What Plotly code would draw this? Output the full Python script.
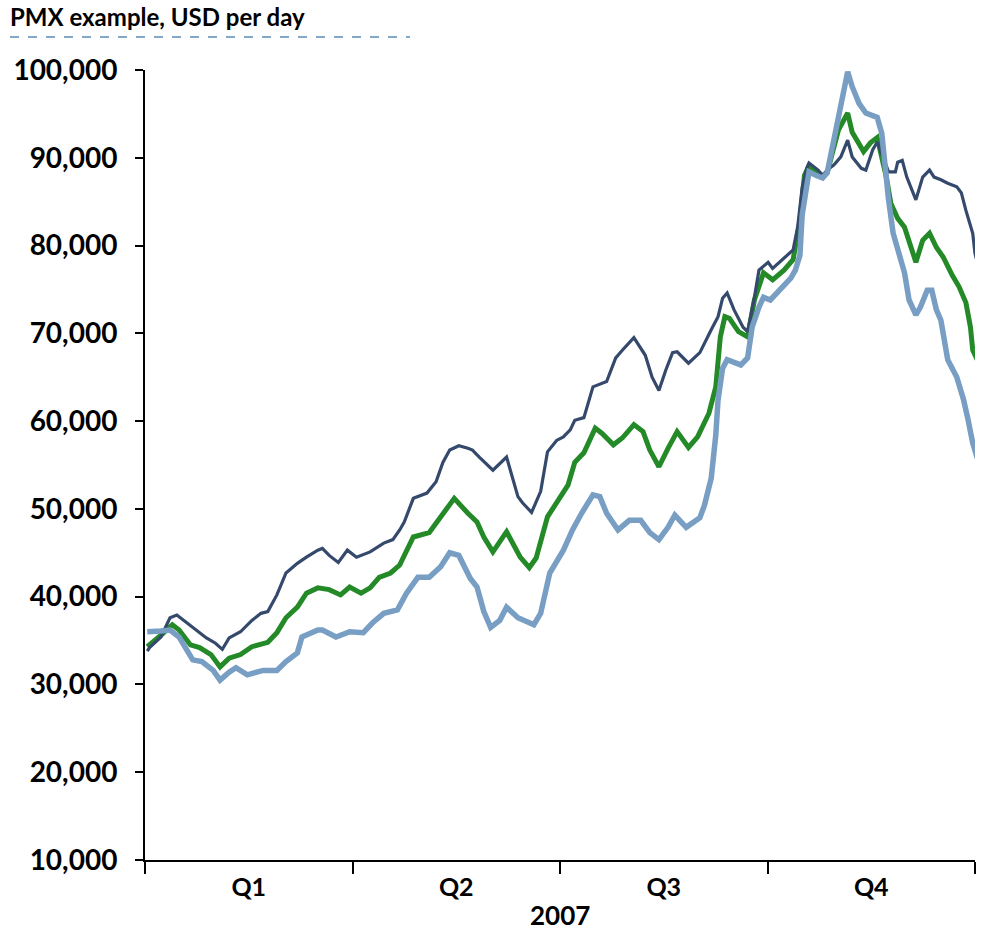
import plotly.graph_objects as go

# ---- data (day of year 2007, USD per day) ----
navy_days = [1, 2, 7, 11, 14, 18, 23, 27, 31, 34, 37, 42, 47, 51, 54, 58, 62, 67, 71, 76, 78, 81, 85, 89, 93, 99,
             105, 109, 112, 114, 118, 124, 128, 131, 134, 138, 142, 144, 147, 150, 153, 159, 164, 166, 170, 174,
             177, 181, 184, 187, 189, 193, 197, 203, 207, 210, 215, 220, 223, 226, 229, 232, 234, 239, 244, 249,
             252, 254, 256, 259, 263, 265, 268, 270, 274, 276, 279, 283, 285, 287, 289, 291, 292, 296, 298, 300,
             303, 306, 309, 311, 315, 317, 320, 322, 325, 327, 330, 331, 333, 335, 339, 342, 345, 347, 350, 353,
             357, 359, 361, 364, 365, 366]
navy_vals = [33800, 34200, 35400, 37600, 37900, 37100, 36000, 35300, 34700, 34000, 35300, 36000, 37300, 38100,
             38300, 40200, 42700, 43800, 44500, 45300, 45500, 44700, 43900, 45300, 44500, 45100, 46100, 46500,
             47600, 48500, 51200, 51800, 53100, 55300, 56700, 57200, 56900, 56700, 55900, 55200, 54400, 55900,
             51400, 50700, 49600, 52000, 56500, 57800, 58200, 59000, 60100, 60400, 63900, 64500, 67200, 68100,
             69500, 67500, 65000, 63500, 65800, 67800, 67900, 66600, 67800, 70400, 71900, 74000, 74600, 72700,
             70700, 70200, 74100, 77200, 78100, 77400, 78100, 79100, 79500, 82100, 86600, 88800, 89400, 88600,
             88000, 88600, 89200, 90100, 92000, 90100, 88800, 88600, 90900, 91800, 89700, 88400, 88400, 89500,
             89700, 87800, 85200, 87800, 88600, 87800, 87500, 87100, 86700, 86000, 84000, 81400, 79100, 78100]

green_days = [1, 2, 7, 12, 15, 20, 24, 29, 33, 37, 42, 47, 54, 58, 62, 67, 71, 76, 81, 86, 90, 95, 99, 103, 108,
              112, 118, 125, 131, 136, 142, 146, 149, 153, 159, 165, 169, 172, 177, 181, 186, 189, 193, 198, 201,
              206, 210, 215, 219, 222, 226, 230, 234, 239, 243, 248, 251, 253, 255, 257, 261, 265, 268, 272, 276,
              281, 285, 288, 290, 292, 296, 298, 300, 302, 305, 309, 311, 316, 319, 322, 324, 326, 328, 331, 334,
              336, 339, 342, 345, 348, 351, 355, 358, 361, 363, 364, 366]
green_vals = [34300, 34500, 35600, 36800, 36200, 34500, 34200, 33400, 32000, 33000, 33400, 34300, 34800, 35900,
              37600, 38800, 40400, 41000, 40800, 40200, 41100, 40400, 41000, 42200, 42700, 43600, 46800, 47300,
              49500, 51200, 49500, 48500, 46800, 45100, 47400, 44500, 43300, 44400, 49100, 50700, 52700, 55300,
              56400, 59200, 58600, 57300, 58100, 59600, 58800, 56700, 54800, 56900, 58800, 57000, 58200, 60900,
              63900, 69600, 71900, 71700, 70200, 69600, 73800, 76900, 76100, 77200, 78400, 82700, 88000, 89100,
              88300, 87800, 88300, 90500, 93200, 95100, 92900, 90700, 91700, 92300, 90100, 87800, 84800, 83100,
              82100, 80600, 78100, 80600, 81400, 79800, 78700, 76600, 75300, 73500, 70700, 68100, 67000]

light_days = [1, 2, 7, 11, 15, 21, 25, 30, 33, 37, 40, 45, 52, 58, 62, 67, 69, 76, 78, 84, 90, 96, 100, 105, 111,
              115, 120, 125, 130, 134, 138, 143, 146, 149, 152, 156, 159, 164, 168, 171, 174, 178, 184, 188, 192,
              197, 200, 203, 208, 213, 218, 222, 226, 230, 233, 238, 244, 246, 249, 251, 252, 254, 256, 262, 265,
              267, 270, 272, 275, 278, 281, 284, 286, 288, 289, 292, 295, 298, 300, 302, 304, 307, 309, 311, 314,
              317, 322, 324, 325, 327, 329, 332, 334, 336, 339, 341, 344, 346, 348, 350, 353, 357, 360, 362, 364,
              366]
light_vals = [36000, 36000, 36100, 36200, 35400, 32800, 32600, 31600, 30500, 31400, 31900, 31100, 31600, 31600,
              32600, 33600, 35400, 36200, 36200, 35400, 36000, 35900, 37000, 38100, 38500, 40400, 42200, 42200,
              43400, 45000, 44700, 42100, 41100, 38300, 36500, 37300, 38800, 37600, 37100, 36800, 38100, 42700,
              45300, 47600, 49500, 51600, 51400, 49500, 47600, 48700, 48700, 47300, 46500, 47900, 49300, 47900,
              49000, 50400, 53500, 58400, 62400, 66000, 67000, 66400, 67200, 70700, 73000, 74100, 73800, 74600,
              75300, 76300, 77200, 78900, 83500, 88400, 88000, 87700, 88300, 90900, 93500, 96600, 99800, 98100,
              96200, 95100, 94600, 92800, 89700, 85200, 81400, 78700, 76900, 73800, 72100, 73000, 74900, 74900,
              72700, 71500, 67000, 65000, 62400, 60100, 57500, 55800]

quarter_bounds = [0, 91.25, 182.5, 273.75, 365]
quarter_centers = [45.625, 136.875, 228.125, 319.375]
quarter_labels = ["Q1", "Q2", "Q3", "Q4"]
year_label = "2007"
title_text = "PMX example, USD per day"

FONT = "Lato, Liberation Sans, Arial, sans-serif"

fig = go.Figure()
fig.add_trace(go.Scatter(x=green_days, y=green_vals, mode="lines", name="green",
                         line=dict(color="#238a27", width=5), hoverinfo="skip"))
fig.add_trace(go.Scatter(x=navy_days, y=navy_vals, mode="lines", name="navy",
                         line=dict(color="#34496c", width=3.2), hoverinfo="skip"))
fig.add_trace(go.Scatter(x=light_days, y=light_vals, mode="lines", name="light",
                         line=dict(color="#789ec4", width=5.5), hoverinfo="skip"))

fig.update_layout(
    width=983, height=936,
    margin=dict(l=145, r=8, t=70, b=76),
    paper_bgcolor="white", plot_bgcolor="white",
    showlegend=False,
    font=dict(family=FONT, color="black"),
    title=dict(text="<b>" + title_text + "</b>", x=10 / 983, xanchor="left",
               y=1 - 18 / 936, yanchor="middle", xref="container", yref="container",
               font=dict(family=FONT, size=24, color="black")),
    xaxis=dict(range=[0, 365], showgrid=False, zeroline=False,
               showline=True, linecolor="black", linewidth=2,
               tickvals=quarter_centers, ticktext=["<b>" + q + "</b>" for q in quarter_labels],
               ticks="", ticklabelstandoff=4,
               tickfont=dict(family=FONT, size=25, color="black"),
               minor=dict(tickvals=quarter_bounds, ticks="outside", ticklen=12,
                          tickwidth=2, tickcolor="black", showgrid=False)),
    yaxis=dict(range=[10000, 100000], dtick=10000, tick0=10000, showgrid=False, zeroline=False,
               showline=True, linecolor="black", linewidth=2,
               ticks="outside", ticklen=8, tickwidth=2, tickcolor="black",
               tickformat=",d", ticklabelstandoff=12,
               tickfont=dict(family=FONT, size=28, color="black", weight="bold")),
)

fig.add_annotation(text="<b>" + year_label + "</b>", xref="paper", yref="paper",
                   x=0.5, y=-(915 - 860) / 790, xanchor="center", yanchor="middle",
                   showarrow=False, font=dict(family=FONT, size=26, color="black"))

fig.add_shape(type="line", xref="paper", yref="paper",
              x0=(10 - 145) / 830, x1=(410 - 145) / 830,
              y0=1 + (70 - 37) / 790, y1=1 + (70 - 37) / 790,
              line=dict(color="#5b8bb8", width=1.5, dash="dash"))

fig.write_html("out.html")
